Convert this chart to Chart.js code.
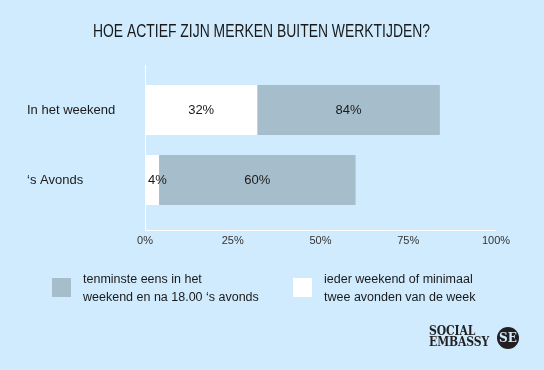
<!DOCTYPE html>
<html>
<head>
<meta charset="utf-8">
<script src="https://cdn.jsdelivr.net/npm/chart.js@4.4.1/dist/chart.umd.min.js"></script>
<style>
  html, body { margin: 0; padding: 0; background: #cfebfd; }
  .wrap { position: relative; width: 544px; height: 370px; }
  .logo { position: absolute; left: 429px; top: 326px; font-family: 'DejaVu Serif Condensed', 'DejaVu Serif', serif; font-weight: bold; font-size: 12px; line-height: 11px; color: #231f20; letter-spacing: -0.1px; }
  .mark { position: absolute; left: 497px; top: 327px; width: 22px; height: 22px; border-radius: 50%; background: #231f20; color: #cfebfd; font: bold 12px 'DejaVu Serif', serif; text-align: center; line-height: 22px; }
</style>
</head>
<body>
<div class="wrap">
  <canvas id="myChart" width="544" height="370"></canvas>
  <div class="logo">SOCIAL<br>EMBASSY</div>
  <div class="mark">SE</div>
</div>
<script>
const categories = ['In het weekend', '‘s Avonds'];
const atLeastOnce = [84, 60];
const everyWeekend = [32, 4];
const xTicks = [0, 25, 50, 75, 100];
const seriesLabels = [
    ['tenminste eens in het', 'weekend en na 18.00 ‘s avonds'],
    ['ieder weekend of minimaal', 'twee avonden van de week'],
];
const titleText = 'HOE ACTIEF ZIJN MERKEN BUITEN WERKTIJDEN?';

const grayColor = '#a6becb';
const whiteColor = '#ffffff';
const textColor = '#1a1a1a';
const font = "'Liberation Sans', Arial, sans-serif";

// condensed title: no narrow font installed, so squeeze a normal one
const narrowTitle = {
    id: 'narrowTitle',
    afterDraw(chart) {
        const { ctx } = chart;
        ctx.save();
        ctx.font = '18px ' + font;
        const w = ctx.measureText(titleText).width;
        const target = 337;
        ctx.translate(261.5, 32);
        ctx.scale(target / w, 1);
        ctx.fillStyle = textColor;
        ctx.textAlign = 'center';
        ctx.textBaseline = 'middle';
        ctx.fillText(titleText, 0, 0);
        ctx.restore();
    }
};

// axis lines a bit longer than the plot area, like the original
const axisLines = {
    id: 'axisLines',
    afterDatasetsDraw(chart) {
        const { ctx, chartArea, scales } = chart;
        const x0 = Math.round(scales.x.getPixelForValue(0)) + 0.5;
        const yTop = chartArea.top - 10;
        const yBot = Math.round(chartArea.bottom + 15) + 0.5;
        ctx.save();
        ctx.strokeStyle = '#ffffff';
        ctx.lineWidth = 1;
        ctx.beginPath();
        ctx.moveTo(x0, yTop);
        ctx.lineTo(x0, yBot);
        ctx.lineTo(scales.x.getPixelForValue(100), yBot);
        ctx.stroke();
        ctx.restore();
    }
};

// percentage labels in the visible part of each bar
const barLabels = {
    id: 'barLabels',
    afterDatasetsDraw(chart) {
        const { ctx, scales } = chart;
        ctx.save();
        ctx.font = '13px ' + font;
        ctx.fillStyle = textColor;
        ctx.textBaseline = 'middle';
        categories.forEach((c, i) => {
            const y = scales.y.getPixelForValue(i);
            const parts = [
                [0, everyWeekend[i]],
                [everyWeekend[i], atLeastOnce[i]],
            ];
            parts.forEach(([from, to]) => {
                const a = scales.x.getPixelForValue(from);
                const b = scales.x.getPixelForValue(to);
                const txt = to + '%';
                const w = ctx.measureText(txt).width;
                if (w + 4 > b - a) {
                    ctx.textAlign = 'left';
                    ctx.fillText(txt, a + 3, y);
                } else {
                    ctx.textAlign = 'center';
                    ctx.fillText(txt, (a + b) / 2, y);
                }
            });
        });
        ctx.restore();
    }
};

// two-line legend under the axis
const legendBlock = {
    id: 'legendBlock',
    afterDraw(chart) {
        const { ctx } = chart;
        const items = [
            { x: 52, color: grayColor, lines: seriesLabels[0] },
            { x: 293, color: whiteColor, lines: seriesLabels[1] },
        ];
        ctx.save();
        ctx.font = '12.5px ' + font;
        ctx.textBaseline = 'middle';
        items.forEach(it => {
            ctx.fillStyle = it.color;
            ctx.fillRect(it.x, 278, 19, 19);
            ctx.fillStyle = textColor;
            it.lines.forEach((l, k) => ctx.fillText(l, it.x + 31, 280 + k * 17.5));
        });
        ctx.restore();
    }
};

const ctx = document.getElementById('myChart').getContext('2d');
window.myChart = new Chart(ctx, {
    type: 'bar',
    data: {
        labels: categories,
        datasets: [
            {
                label: seriesLabels[0].join(' '),
                data: atLeastOnce,
                backgroundColor: grayColor,
                grouped: false,
                order: 1,
                barPercentage: 50 / 70,
                categoryPercentage: 1,
            },
            {
                label: seriesLabels[1].join(' '),
                data: everyWeekend,
                backgroundColor: whiteColor,
                grouped: false,
                order: 0,
                barPercentage: 50 / 70,
                categoryPercentage: 1,
            },
        ],
    },
    options: {
        indexAxis: 'y',
        responsive: false,
        animation: false,
        layout: { padding: { left: 27, right: 48, top: 75, bottom: 0 } },
        plugins: {
            legend: { display: false },
            tooltip: { enabled: false },
            title: { display: false },
        },
        scales: {
            x: {
                min: 0,
                max: 100,
                afterBuildTicks: (scale) => { scale.ticks = xTicks.map(v => ({ value: v })); },
                afterFit: (scale) => { scale.height = 155; },
                grid: { display: false, drawTicks: false },
                border: { display: false },
                ticks: {
                    padding: 19,
                    color: '#333',
                    font: { family: font, size: 11 },
                    callback: (v) => v + '%',
                },
            },
            y: {
                afterFit: (scale) => { scale.width = 118; },
                grid: { display: false, drawTicks: false },
                border: { display: false },
                ticks: {
                    crossAlign: 'far',
                    padding: 0,
                    color: textColor,
                    font: { family: font, size: 13 },
                },
            },
        },
    },
    plugins: [axisLines, barLabels, legendBlock, narrowTitle],
});
</script>
</body>
</html>
